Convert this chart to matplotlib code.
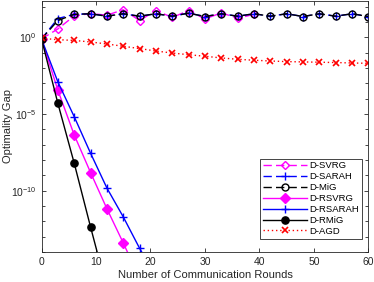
import matplotlib
matplotlib.use("Agg")
import matplotlib.pyplot as plt
from matplotlib.ticker import LogFormatterSciNotation, NullFormatter
import numpy as np

plt.rcParams['font.family'] = ['Liberation Sans', 'DejaVu Sans']
plt.rcParams['mathtext.fontset'] = 'custom'
plt.rcParams['mathtext.rm'] = 'Liberation Sans'
plt.rcParams['mathtext.it'] = 'Liberation Sans:italic'
plt.rcParams['mathtext.bf'] = 'Liberation Sans:bold'

# rounds where markers/points sit (every 3 rounds)
rounds = list(range(0, 61, 3))

# log10 of optimality gap
svrg_log = [-0.1, 0.55, 1.4, 1.55, 1.45, 1.8, 1.1, 1.75, 1.3, 1.75, 1.2, 1.6, 1.25, 1.5]
sarah_log = [-0.1, 1.23, 1.5, 1.54, 1.38, 1.54, 1.38, 1.54, 1.38, 1.58, 1.36, 1.54, 1.38,
             1.54, 1.38, 1.54, 1.36, 1.54, 1.38, 1.54, 1.36]
mig_log = [-0.1, 1.1, 1.5, 1.54, 1.38, 1.54, 1.38, 1.54, 1.38, 1.58, 1.36, 1.54, 1.38,
           1.54, 1.38, 1.54, 1.36, 1.54, 1.38, 1.54, 1.36]
rsvrg_log = [-0.1, -3.44, -6.36, -8.81, -11.17, -13.4, -15.7]
rsarah_log = [-0.1, -2.9, -5.17, -7.55, -9.82, -11.7, -13.75, -15.6]
rmig_log = [-0.1, -4.3, -8.2, -12.36, -16.4]
agd_log = [-0.06, -0.15, -0.2, -0.3, -0.43, -0.58, -0.73, -0.89, -1.02, -1.13, -1.23,
           -1.34, -1.43, -1.49, -1.54, -1.58, -1.6, -1.62, -1.64, -1.67, -1.69]

magenta = (1.0, 0.0, 1.0)
blue = (0.0, 0.0, 1.0)
black = (0.0, 0.0, 0.0)
red = (1.0, 0.0, 0.0)
axcol = "#262626"

fig = plt.figure(figsize=(3.74, 2.82), dpi=100)
ax = fig.add_axes([0.111, 0.106, 0.874, 0.892])

def pl(vals, **kw):
    x = rounds[:len(vals)]
    ax.plot(x, 10.0 ** np.array(vals), **kw)

pl(svrg_log, color=magenta, ls=(0, (6, 3)), lw=1.0, marker="D", ms=4.5,
   mfc="none", mew=1.0, label="D-SVRG")
pl(sarah_log, color=blue, ls=(0, (6, 3)), lw=1.0, marker="+", ms=6,
   mew=1.0, label="D-SARAH")
pl(mig_log, color=black, ls=(0, (6, 3)), lw=1.0, marker="o", ms=5,
   mfc="none", mew=1.0, label="D-MiG")
pl(rsvrg_log, color=magenta, ls="-", lw=1.0, marker="D", ms=4.8,
   mfc=magenta, label="D-RSVRG")
pl(rsarah_log, color=blue, ls="-", lw=1.0, marker="+", ms=6,
   mew=1.0, label="D-RSARAH")
pl(rmig_log, color=black, ls="-", lw=1.0, marker="o", ms=5.2,
   mfc=black, label="D-RMiG")
pl(agd_log, color=red, ls=(0, (1, 2)), lw=1.0, marker="x", ms=4,
   mew=1.2, label="D-AGD")

ax.set_yscale("log")
ax.set_xlim(0, 60)
ax.set_ylim(1e-14, 10 ** 2.4)
ax.set_xticks([0, 10, 20, 30, 40, 50, 60])
ax.set_yticks([1e-10, 1e-5, 1e0])
ax.set_yticks([10.0 ** k for k in range(-14, 3)], minor=True)
ax.yaxis.set_major_formatter(LogFormatterSciNotation())
ax.yaxis.set_minor_formatter(NullFormatter())
ax.tick_params(which="both", direction="in", top=True, right=True,
               colors=axcol, labelsize=7.5, length=3, width=0.6)
ax.tick_params(which="minor", length=2)
for s in ax.spines.values():
    s.set_color(axcol)
    s.set_linewidth(0.6)

ax.set_xlabel("Number of Communication Rounds", fontsize=8, color=axcol, labelpad=2)
ax.set_ylabel("Optimality Gap", fontsize=8, color=axcol)
ax.yaxis.set_label_coords(-0.088, 0.5)

leg = ax.legend(loc="lower right", fontsize=6.8, handlelength=4.6, labelspacing=0.2,
                borderpad=0.3, handletextpad=0.3, fancybox=False, framealpha=1,
                edgecolor=axcol, bbox_to_anchor=(0.995, 0.035))
leg.get_frame().set_linewidth(0.6)

fig.savefig("out.png", dpi=100)
